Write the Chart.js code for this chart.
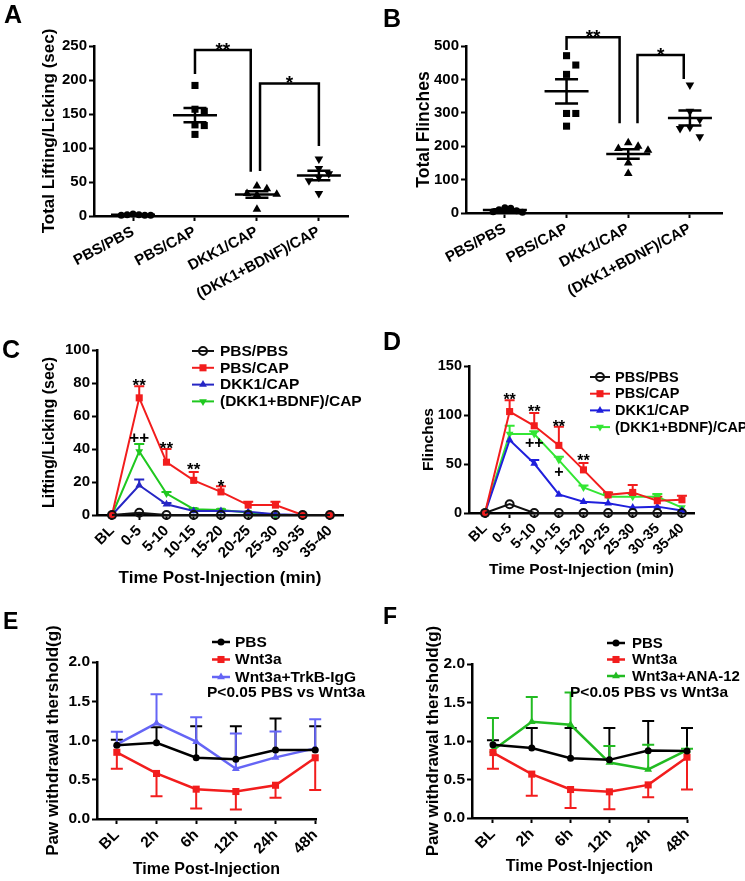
<!DOCTYPE html>
<html>
<head>
<meta charset="utf-8">
<script src="https://cdn.jsdelivr.net/npm/chart.js@4.4.1/dist/chart.umd.min.js"></script>
<style>
html,body{margin:0;padding:0;background:#fff;}
#wrap{position:relative;width:745px;height:881px;overflow:hidden;background:#fff;}
#wrap canvas{position:absolute;left:0;top:0;}
.lbl{position:absolute;font-family:'Liberation Sans',Arial,sans-serif;font-weight:bold;color:#000;white-space:nowrap;line-height:1;}
</style>
</head>
<body>
<div id="wrap">
<canvas id="cA" width="745" height="881"></canvas>
<canvas id="cB" width="745" height="881"></canvas>
<canvas id="cC" width="745" height="881"></canvas>
<canvas id="cD" width="745" height="881"></canvas>
<canvas id="cE" width="745" height="881"></canvas>
<canvas id="cF" width="745" height="881"></canvas>
<div class="lbl" style="left:4px;top:2px;font-size:25px">A</div>
<div class="lbl" style="left:383px;top:6px;font-size:25px">B</div>
<div class="lbl" style="left:2px;top:337px;font-size:25px">C</div>
<div class="lbl" style="left:383px;top:329px;font-size:25px">D</div>
<div class="lbl" style="left:3px;top:610px;font-size:23px">E</div>
<div class="lbl" style="left:383px;top:605px;font-size:23px">F</div>
<div class="lbl" style="left:207px;top:684px;font-size:15.5px">P&lt;0.05 PBS vs Wnt3a</div>
<div class="lbl" style="left:570px;top:684px;font-size:15.5px">P&lt;0.05 PBS vs Wnt3a</div>
</div>
<script>
// ---------------- DATA ----------------
const dotCategories = ['PBS/PBS', 'PBS/CAP', 'DKK1/CAP', '(DKK1+BDNF)/CAP'];
// Panel A: Total Lifting/Licking (sec), individual animals
const aPbsPbs = [1, 2, 1, 3, 2, 1];
const aPbsCap = [192, 157, 154, 134, 133, 120];
const aDkk1Cap = [44, 40, 33, 32, 31, 10];
const aDkkBdnfCap = [84, 70, 62, 57, 52, 33];
// Panel B: Total Flinches
const bPbsPbs = [16, 14, 10, 7, 4, 2];
const bPbsCap = [471, 443, 415, 298, 298, 260];
const bDkk1Cap = [210, 200, 193, 188, 150, 118];
const bDkkBdnfCap = [383, 305, 280, 257, 253, 228];

// Panels C, D time bins
const timeBins = ['BL', '0-5', '5-10', '10-15', '15-20', '20-25', '25-30', '30-35', '35-40'];
const seriesCD = ['PBS/PBS', 'PBS/CAP', 'DKK1/CAP', '(DKK1+BDNF)/CAP'];
// Panel C: Lifting/Licking (sec) mean and SEM
const cPbsPbs = [0, 1.4, 0, 0, 0, 0, 0, 0, 0];
const cPbsCap = [0, 71, 32, 21, 14, 6, 6, 0, 0];
const cPbsCapSem = [0, 7, 8, 5, 3.5, 2, 2, 0, 0];
const cDkk1Cap = [0, 18, 6.5, 2.5, 2.5, 2, 0.5, 0, 0];
const cDkk1CapSem = [0, 3.5, 0.8, 0, 0, 0, 0, 0, 0];
const cDkkBdnf = [0, 38.5, 13, 3.5, 3, 1.5, 0, 0, 0];
const cDkkBdnfSem = [0, 4.5, 1, 0.5, 0.5, 0, 0, 0, 0];
// Panel D: Flinches mean and SEM
const dPbsPbs = [0, 9, 0, 0, 0, 0, 0, 0, 0];
const dPbsCap = [0, 103.5, 89, 69, 44, 18.5, 21, 12.5, 13.5];
const dPbsCapSem = [0, 11.5, 13, 19, 7, 2.5, 7.5, 4, 4];
const dDkk1Cap = [0, 74.5, 50.5, 19, 11.5, 10, 5.5, 6.5, 2.5];
const dDkk1CapSem = [0, 0, 3.5, 0, 0, 0, 0, 0, 0];
const dDkkBdnf = [1, 80.5, 80.5, 54, 26, 16.5, 16.5, 16.5, 5.5];
const dDkkBdnfSem = [0, 8.5, 3, 3.5, 2, 3, 3, 3, 0];

// Panels E, F
const timePoints = ['BL', '2h', '6h', '12h', '24h', '48h'];
const ePbs = [0.94, 0.97, 0.78, 0.76, 0.88, 0.88];
const ePbsSem = [0.07, 0.2, 0.4, 0.42, 0.4, 0.3];
const eWnt3a = [0.85, 0.58, 0.38, 0.35, 0.43, 0.78];
const eWnt3aSem = [0.21, 0.29, 0.245, 0.23, 0.16, 0.41];
const eTrkB = [0.95, 1.22, 0.985, 0.64, 0.785, 0.9];
const eTrkBSem = [0.16, 0.37, 0.31, 0.45, 0.33, 0.37];
const fPbs = [0.95, 0.91, 0.775, 0.755, 0.875, 0.87];
const fPbsSem = [0.06, 0.26, 0.395, 0.415, 0.385, 0.3];
const fWnt3a = [0.85, 0.57, 0.37, 0.34, 0.43, 0.79];
const fWnt3aSem = [0.21, 0.28, 0.24, 0.225, 0.16, 0.42];
const fAna12 = [0.88, 1.25, 1.21, 0.72, 0.63, 0.88];
const fAna12Sem = [0.42, 0.32, 0.42, 0.215, 0.32, 0.02];

// Significance annotations (category index, value level, text)
const aBrackets = [{x1: 1, x2: 1.9, top: 244, b1: 209, b2: 65, t: '**'}, {x1: 2.05, x2: 3, top: 195, b1: 66, b2: 103, t: '*'}];
const bBrackets = [{x1: 1, x2: 1.86, top: 526, b1: 488, b2: 269, t: '**'}, {x1: 2.15, x2: 2.9, top: 473, b1: 269, b2: 401, t: '*'}];
const cMarks = [{x: 1, y: 81, t: '**'}, {x: 1, y: 47, t: '++'}, {x: 2, y: 43, t: '**'}, {x: 3, y: 30, t: '**'}, {x: 4, y: 20, t: '*'}];
const dMarks = [{x: 1, y: 120, t: '**'}, {x: 2, y: 107, t: '**'}, {x: 3, y: 92, t: '**'}, {x: 4, y: 57, t: '**'}, {x: 2, y: 72, t: '++'}, {x: 3, y: 42, t: '+'}];

// ---------------- RENDERING ----------------
const W = 745, H = 881;
const FONT = "'Liberation Sans', Arial, Helvetica, sans-serif";
Chart.defaults.font.family = FONT;
Chart.defaults.font.weight = 'bold';
Chart.defaults.color = '#000';

const EXTRAS = {};

function drawMarker(ctx, style, x, y, r, rot, fill, stroke, bw) {
  ctx.save();
  ctx.beginPath();
  if (style === 'circle') {
    ctx.arc(x, y, r, 0, Math.PI * 2);
  } else if (style === 'rect') {
    const s = r * Math.SQRT1_2;
    ctx.rect(x - s, y - s, 2 * s, 2 * s);
  } else {
    let a = (rot || 0) * Math.PI / 180;
    ctx.moveTo(x + Math.sin(a) * r, y - Math.cos(a) * r);
    for (let k = 0; k < 2; k++) {
      a += 2 * Math.PI / 3;
      ctx.lineTo(x + Math.sin(a) * r, y - Math.cos(a) * r);
    }
    ctx.closePath();
  }
  ctx.fillStyle = fill;
  ctx.fill();
  if (bw) { ctx.lineWidth = bw; ctx.strokeStyle = stroke; ctx.stroke(); }
  ctx.restore();
}

const extrasPlugin = {
  id: 'extras',
  beforeDatasetsDraw(chart) {
    const ctx = chart.ctx, xs = chart.scales.x, ys = chart.scales.y;
    chart.data.datasets.forEach(ds => {
      if (!ds.errValues) return;
      ctx.save();
      ctx.strokeStyle = ds.borderColor;
      ctx.lineWidth = ds.errLineWidth || 2;
      ds.data.forEach((pt, i) => {
        const e = ds.errValues[i];
        if (!e) return;
        const px = xs.getPixelForValue(pt.x);
        const y0 = ys.getPixelForValue(pt.y);
        const y1 = ys.getPixelForValue(ds.errDir === 'down' ? pt.y - e : pt.y + e);
        ctx.beginPath();
        ctx.moveTo(px, y0); ctx.lineTo(px, y1);
        ctx.moveTo(px - ds.errCap, y1); ctx.lineTo(px + ds.errCap, y1);
        ctx.stroke();
      });
      ctx.restore();
    });
  },
  afterDatasetsDraw(chart) {
    const ex = EXTRAS[chart.canvas.id] || {};
    const ctx = chart.ctx, xs = chart.scales.x, ys = chart.scales.y;
    ctx.save();
    // mean +- SEM bars
    chart.data.datasets.forEach(ds => {
      if (!ds.meanBar) return;
      const vals = ds.data.map(p => p.y);
      const n = vals.length;
      const mean = vals.reduce((a, b) => a + b, 0) / n;
      const sd = Math.sqrt(vals.reduce((a, b) => a + (b - mean) * (b - mean), 0) / (n - 1));
      const sem = sd / Math.sqrt(n);
      const cx = xs.getPixelForValue(ds.cat);
      const my = ys.getPixelForValue(mean), hi = ys.getPixelForValue(mean + sem), lo = ys.getPixelForValue(mean - sem);
      ctx.strokeStyle = '#000'; ctx.lineWidth = 2.5;
      ctx.beginPath();
      ctx.moveTo(cx - 22, my); ctx.lineTo(cx + 22, my);
      ctx.moveTo(cx, hi); ctx.lineTo(cx, lo);
      ctx.moveTo(cx - 11.5, hi); ctx.lineTo(cx + 11.5, hi);
      ctx.moveTo(cx - 11.5, lo); ctx.lineTo(cx + 11.5, lo);
      ctx.stroke();
    });
    // brackets
    (ex.brackets || []).forEach(b => {
      const p1 = xs.getPixelForValue(b.x1), p2 = xs.getPixelForValue(b.x2);
      const top = ys.getPixelForValue(b.top);
      ctx.strokeStyle = '#000'; ctx.lineWidth = 2.5; ctx.lineJoin = 'miter';
      ctx.beginPath();
      ctx.moveTo(p1, ys.getPixelForValue(b.b1));
      ctx.lineTo(p1, top); ctx.lineTo(p2, top);
      ctx.lineTo(p2, ys.getPixelForValue(b.b2));
      ctx.stroke();
      const fs = ex.bracketFont || 19;
      ctx.font = 'bold ' + fs + 'px ' + FONT;
      ctx.fillStyle = '#000'; ctx.textAlign = 'center'; ctx.textBaseline = 'alphabetic';
      ctx.fillText(b.t, (p1 + p2) / 2, top + 0.3 * fs);
    });
    // star / plus marks
    (ex.marks || []).forEach(m => {
      const fs = ex.markFont || 17;
      ctx.font = 'bold ' + fs + 'px ' + FONT;
      ctx.fillStyle = '#000'; ctx.textAlign = 'center'; ctx.textBaseline = 'alphabetic';
      const py = ys.getPixelForValue(m.y);
      ctx.fillText(m.t, xs.getPixelForValue(m.x), py + (m.t.indexOf('*') >= 0 ? 0.58 : 0.34) * fs);
    });
    // legend
    if (ex.legend) {
      const lg = ex.legend;
      chart.data.datasets.forEach((ds, i) => {
        const y = lg.y0 + i * lg.dy;
        ctx.strokeStyle = ds.borderColor; ctx.lineWidth = lg.lineWidth;
        ctx.beginPath(); ctx.moveTo(lg.x, y); ctx.lineTo(lg.x + lg.len, y); ctx.stroke();
        drawMarker(ctx, ds.pointStyle, lg.x + lg.len / 2, y, ds.pointRadius, ds.pointRotation,
          ds.pointBackgroundColor, ds.pointBorderColor, ds.pointBorderWidth);
        ctx.font = 'bold ' + lg.font + 'px ' + FONT;
        ctx.fillStyle = '#000'; ctx.textAlign = 'left'; ctx.textBaseline = 'middle';
        ctx.fillText(ds.label, lg.textX, y + 0.5);
      });
    }
    ctx.restore();
  }
};

function swarm(values, cat, step, thr) {
  const order = values.map((v, i) => i).sort((a, b) => values[b] - values[a]);
  const placed = [];
  const out = new Array(values.length);
  const cands = [0, 1, -1, 2, -2, 3, -3, 4, -4];
  order.forEach(i => {
    const v = values[i];
    let off = 0;
    for (const c of cands) {
      if (placed.every(p => Math.abs(p.v - v) >= thr || p.o !== c)) { off = c; break; }
    }
    placed.push({v: v, o: off});
    out[i] = {x: cat + off * step, y: v};
  });
  return out;
}

function makeOptions(p) {
  const lhY = p.yTitleSize * 1.2;
  const yLeft = p.yTitleX - lhY / 2;
  let xH, padB;
  if (p.xTitle) {
    const edge = p.xTitleY + p.xTitleSize * 1.2 / 2;
    xH = edge - p.B; padB = H - edge;
  } else {
    xH = 100; padB = H - p.B - 100;
  }
  const labels = p.labels;
  return {
    responsive: false, animation: false, devicePixelRatio: 1, events: [],
    layout: {padding: {left: yLeft, right: W - p.R, top: p.T, bottom: padB}},
    plugins: {legend: {display: false}, tooltip: {enabled: false}, title: {display: false}},
    scales: {
      x: {
        type: 'linear', min: p.xMin, max: p.xMax,
        afterBuildTicks: s => { s.ticks = labels.map((_, i) => ({value: i})); },
        afterFit: s => { s.height = xH; },
        ticks: {
          callback: v => labels[v], autoSkip: false, minRotation: p.rot, maxRotation: p.rot,
          font: {size: p.tickSize, weight: 'bold'}, color: '#000', padding: 2
        },
        grid: {display: true, drawOnChartArea: false, drawTicks: true, tickLength: 5, tickWidth: 2, tickColor: '#000'},
        border: {display: true, color: '#000', width: 2.5},
        title: p.xTitle ? {display: true, text: p.xTitle, font: {size: p.xTitleSize, weight: 'bold'}, color: '#000', padding: 0} : {display: false}
      },
      y: {
        type: 'linear', min: p.yMin, max: p.yMax,
        afterFit: s => { s.width = p.L - yLeft; },
        ticks: {
          stepSize: p.yStep, font: {size: p.tickSize, weight: 'bold'}, color: '#000', padding: 2,
          callback: v => p.yDec ? v.toFixed(p.yDec) : String(v)
        },
        grid: {display: true, drawOnChartArea: false, drawTicks: true, tickLength: 5, tickWidth: 2, tickColor: '#000'},
        border: {display: true, color: '#000', width: 2.5},
        title: {display: true, text: p.yTitle, font: {size: p.yTitleSize, weight: 'bold'}, color: '#000', padding: 0}
      }
    }
  };
}

function dotSet(label, values, cat, style, rot, r, step, thr) {
  return {
    label: label, data: swarm(values, cat, step, thr), cat: cat, meanBar: true,
    pointStyle: style, pointRotation: rot, pointRadius: r,
    pointBackgroundColor: '#000', pointBorderColor: '#000', pointBorderWidth: 0,
    borderColor: '#000', showLine: false, clip: false
  };
}

function lineSet(label, values, sem, dir, color, style, rot, r, opts) {
  opts = opts || {};
  return {
    label: label, data: values.map((v, i) => ({x: i, y: v})),
    borderColor: color, borderWidth: opts.lw || 2, tension: 0, fill: false, clip: false,
    pointStyle: style, pointRotation: rot, pointRadius: r,
    pointBackgroundColor: opts.fill || color, pointBorderColor: color, pointBorderWidth: opts.bw || 0,
    errValues: sem, errDir: dir, errCap: opts.cap || 5, errLineWidth: opts.elw || 2
  };
}

// Panel A
EXTRAS.cA = {brackets: aBrackets, bracketFont: 19};
new Chart(document.getElementById('cA'), {
  type: 'scatter',
  data: {datasets: [
    dotSet(dotCategories[0], aPbsPbs, 0, 'circle', 0, 3.5, 0.095, 12.5),
    dotSet(dotCategories[1], aPbsCap, 1, 'rect', 0, 5, 0.15, 12.5),
    dotSet(dotCategories[2], aDkk1Cap, 2, 'triangle', 0, 5, 0.16, 12.5),
    dotSet(dotCategories[3], aDkkBdnfCap, 3, 'triangle', 180, 5, 0.16, 12.5)
  ]},
  options: makeOptions({L: 94, R: 348, T: 46, B: 216, yTitleX: 49, yTitleSize: 17, yTitle: 'Total Lifting/Licking (sec)',
    xMin: -0.63, xMax: 3.47, labels: dotCategories, rot: 28, tickSize: 15, yMin: 0, yMax: 250, yStep: 50}),
  plugins: [extrasPlugin]
});

// Panel B
EXTRAS.cB = {brackets: bBrackets, bracketFont: 19};
new Chart(document.getElementById('cB'), {
  type: 'scatter',
  data: {datasets: [
    dotSet(dotCategories[0], bPbsPbs, 0, 'circle', 0, 3.5, 0.095, 30),
    dotSet(dotCategories[1], bPbsCap, 1, 'rect', 0, 5, 0.15, 30),
    dotSet(dotCategories[2], bDkk1Cap, 2, 'triangle', 0, 5, 0.16, 30),
    dotSet(dotCategories[3], bDkkBdnfCap, 3, 'triangle', 180, 5, 0.16, 30)
  ]},
  options: makeOptions({L: 466, R: 722, T: 46, B: 213, yTitleX: 424, yTitleSize: 17.5, yTitle: 'Total Flinches',
    xMin: -0.63, xMax: 3.52, labels: dotCategories, rot: 28, tickSize: 15, yMin: 0, yMax: 500, yStep: 100}),
  plugins: [extrasPlugin]
});

// Panel C
EXTRAS.cC = {marks: cMarks, markFont: 17, legend: {x: 192, len: 22, textX: 220, y0: 351, dy: 16.8, lineWidth: 2, font: 15.5}};
new Chart(document.getElementById('cC'), {
  type: 'line',
  data: {datasets: [
    lineSet(seriesCD[0], cPbsPbs, null, 'up', '#111', 'circle', 0, 4, {fill: 'rgba(0,0,0,0)', bw: 2}),
    lineSet(seriesCD[1], cPbsCap, cPbsCapSem, 'up', '#f21d1d', 'rect', 0, 5, {cap: 5}),
    lineSet(seriesCD[2], cDkk1Cap, cDkk1CapSem, 'up', '#2626c4', 'triangle', 0, 4.5, {cap: 5}),
    lineSet(seriesCD[3], cDkkBdnf, cDkkBdnfSem, 'up', '#1fc81f', 'triangle', 180, 4.5, {cap: 5})
  ]},
  options: makeOptions({L: 97, R: 343, T: 350, B: 515, yTitleX: 50, yTitleSize: 16, yTitle: 'Lifting/Licking (sec)',
    xTitle: 'Time Post-Injection (min)', xTitleY: 578, xTitleSize: 17,
    xMin: -0.55, xMax: 8.48, labels: timeBins, rot: 45, tickSize: 15, yMin: 0, yMax: 100, yStep: 20}),
  plugins: [extrasPlugin]
});

// Panel D
EXTRAS.cD = {marks: dMarks, markFont: 16, legend: {x: 590, len: 20, textX: 615, y0: 377, dy: 16.7, lineWidth: 2, font: 14.5}};
new Chart(document.getElementById('cD'), {
  type: 'line',
  data: {datasets: [
    lineSet(seriesCD[0], dPbsPbs, null, 'up', '#111', 'circle', 0, 4, {fill: 'rgba(0,0,0,0)', bw: 2}),
    lineSet(seriesCD[1], dPbsCap, dPbsCapSem, 'up', '#f21d1d', 'rect', 0, 5, {cap: 5}),
    lineSet(seriesCD[2], dDkk1Cap, dDkk1CapSem, 'up', '#1f1fdc', 'triangle', 0, 4.5, {cap: 5}),
    lineSet(seriesCD[3], dDkkBdnf, dDkkBdnfSem, 'up', '#33e633', 'triangle', 180, 4.5, {cap: 5})
  ]},
  options: makeOptions({L: 469, R: 694, T: 366, B: 513, yTitleX: 429, yTitleSize: 15.5, yTitle: 'Flinches',
    xTitle: 'Time Post-Injection (min)', xTitleY: 570, xTitleSize: 15.5,
    xMin: -0.65, xMax: 8.49, labels: timeBins, rot: 45, tickSize: 14.5, yMin: 0, yMax: 150, yStep: 50}),
  plugins: [extrasPlugin]
});

// Panel E
EXTRAS.cE = {legend: {x: 212, len: 18, textX: 235, y0: 642, dy: 17.5, lineWidth: 2.5, font: 15.5}};
new Chart(document.getElementById('cE'), {
  type: 'line',
  data: {datasets: [
    lineSet('PBS', ePbs, ePbsSem, 'up', '#000', 'circle', 0, 3.5, {lw: 2.5, cap: 6}),
    lineSet('Wnt3a', eWnt3a, eWnt3aSem, 'down', '#f21d1d', 'rect', 0, 5, {lw: 2.5, cap: 6}),
    lineSet('Wnt3a+TrkB-IgG', eTrkB, eTrkBSem, 'up', '#6565f5', 'triangle', 0, 4.5, {lw: 2.5, cap: 6})
  ]},
  options: makeOptions({L: 97, R: 316, T: 662, B: 819, yTitleX: 53, yTitleSize: 17, yTitle: 'Paw withdrawal thershold(g)',
    xTitle: 'Time Post-Injection', xTitleY: 870, xTitleSize: 16,
    xMin: -0.5, xMax: 5.02, labels: timePoints, rot: 45, tickSize: 15.5, yMin: 0, yMax: 2, yStep: 0.5, yDec: 1}),
  plugins: [extrasPlugin]
});

// Panel F
EXTRAS.cF = {legend: {x: 607, len: 18, textX: 632, y0: 643, dy: 16.5, lineWidth: 2.5, font: 15}};
new Chart(document.getElementById('cF'), {
  type: 'line',
  data: {datasets: [
    lineSet('PBS', fPbs, fPbsSem, 'up', '#000', 'circle', 0, 3.5, {lw: 2.5, cap: 6}),
    lineSet('Wnt3a', fWnt3a, fWnt3aSem, 'down', '#f21d1d', 'rect', 0, 5, {lw: 2.5, cap: 6}),
    lineSet('Wnt3a+ANA-12', fAna12, fAna12Sem, 'up', '#22bb22', 'triangle', 0, 4.5, {lw: 2.5, cap: 6})
  ]},
  options: makeOptions({L: 472, R: 687, T: 664, B: 818, yTitleX: 433, yTitleSize: 17, yTitle: 'Paw withdrawal thershold(g)',
    xTitle: 'Time Post-Injection', xTitleY: 867, xTitleSize: 16,
    xMin: -0.54, xMax: 5.0, labels: timePoints, rot: 45, tickSize: 15.5, yMin: 0, yMax: 2, yStep: 0.5, yDec: 1}),
  plugins: [extrasPlugin]
});
</script>
</body>
</html>
